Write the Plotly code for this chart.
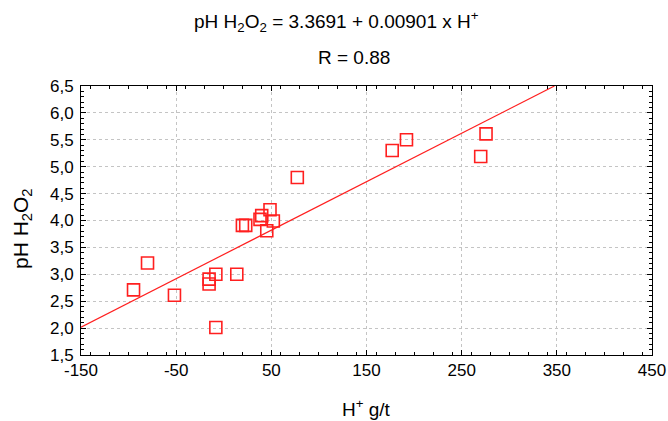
import plotly.graph_objects as go

# Data
h_plus = [-94.8, -80.1, -51.8, -15.4, -15.4, -8.3, -8.3, 13.7, 19.6, 23.1,
          38.1, 39.9, 45.2, 48.6, 52.1, 77.3, 177.0, 192.0, 270.0, 275.6]
ph_h2o2 = [2.71, 3.21, 2.61, 2.91, 2.82, 3.00, 2.01, 3.00, 3.91, 3.91,
           4.02, 4.09, 3.81, 4.20, 3.99, 4.80, 5.30, 5.50, 5.19, 5.61]

# Regression coefficients (from title)
intercept = 3.3691
slope = 0.00901
line_x = [-150, (6.5 - intercept) / slope]
line_y = [intercept + slope * v for v in line_x]

x_ticks = [-150, -50, 50, 150, 250, 350, 450]
x_ticklabels = ["-150", "-50", "50", "150", "250", "350", "450"]
y_ticks = [1.5, 2.0, 2.5, 3.0, 3.5, 4.0, 4.5, 5.0, 5.5, 6.0, 6.5]
y_ticklabels = ["1,5", "2,0", "2,5", "3,0", "3,5", "4,0", "4,5", "5,0", "5,5", "6,0", "6,5"]

FONT = "Liberation Sans, Arial, sans-serif"
RED = "#ff1f1f"

# plot-area geometry in pixels
L, R, T, B = 81, 652, 86, 355
W, H = R - L, B - T


def px_x(p):
    return (p - L) / W


def px_y(p):
    return (B - p) / H


fig = go.Figure()
fig.add_trace(go.Scatter(x=line_x, y=line_y, mode="lines",
                         line=dict(color=RED, width=1.2), hoverinfo="skip"))
fig.add_trace(go.Scatter(x=h_plus, y=ph_h2o2, mode="markers",
                         marker=dict(symbol="square-open", size=12, color=RED,
                                     line=dict(width=1.6, color=RED))))

axis_common = dict(
    showline=True, linecolor="black", linewidth=1, mirror="allticks",
    ticks="inside", ticklen=5, tickcolor="black",
    showgrid=True, gridcolor="#c4c4c4", griddash="dot", gridwidth=1,
    zeroline=False, automargin=False,
    tickfont=dict(family=FONT, size=17, color="black"),
    minor=dict(ticks="inside", ticklen=3, tickcolor="black", showgrid=False),
)

fig.update_xaxes(range=[-150, 450], tickvals=x_ticks, ticktext=x_ticklabels,
                 minor_dtick=20, **axis_common)
fig.update_yaxes(range=[1.5, 6.5], tickvals=y_ticks, ticktext=y_ticklabels,
                 minor_dtick=0.1, ticklabelstandoff=3, **axis_common)

fig.update_layout(
    width=668, height=421,
    margin=dict(l=L, r=668 - R, t=T, b=421 - B),
    paper_bgcolor="white", plot_bgcolor="white",
    showlegend=False,
    font=dict(family=FONT, color="black"),
    annotations=[
        dict(text="pH H<sub>2</sub>O<sub>2</sub> = 3.3691 + 0.00901 x H<sup>+</sup>",
             xref="paper", yref="paper", x=px_x(336), y=px_y(22),
             xanchor="center", yanchor="middle", showarrow=False,
             font=dict(family=FONT, size=19, color="black")),
        dict(text="R = 0.88",
             xref="paper", yref="paper", x=px_x(354), y=px_y(57.5),
             xanchor="center", yanchor="middle", showarrow=False,
             font=dict(family=FONT, size=19, color="black")),
        dict(text="H<sup>+</sup> g/t",
             xref="paper", yref="paper", x=px_x(366), y=px_y(408),
             xanchor="center", yanchor="middle", showarrow=False,
             font=dict(family=FONT, size=19, color="black")),
        dict(text="pH H<sub>2</sub>O<sub>2</sub>", textangle=-90,
             xref="paper", yref="paper", x=px_x(22), y=px_y(229),
             xanchor="center", yanchor="middle", showarrow=False,
             font=dict(family=FONT, size=21, color="black")),
    ],
)

fig.write_html("out.html",
               config={"displayModeBar": False},
               post_script="document.body.style.margin='0';"
                           "document.body.style.overflow='hidden';")
